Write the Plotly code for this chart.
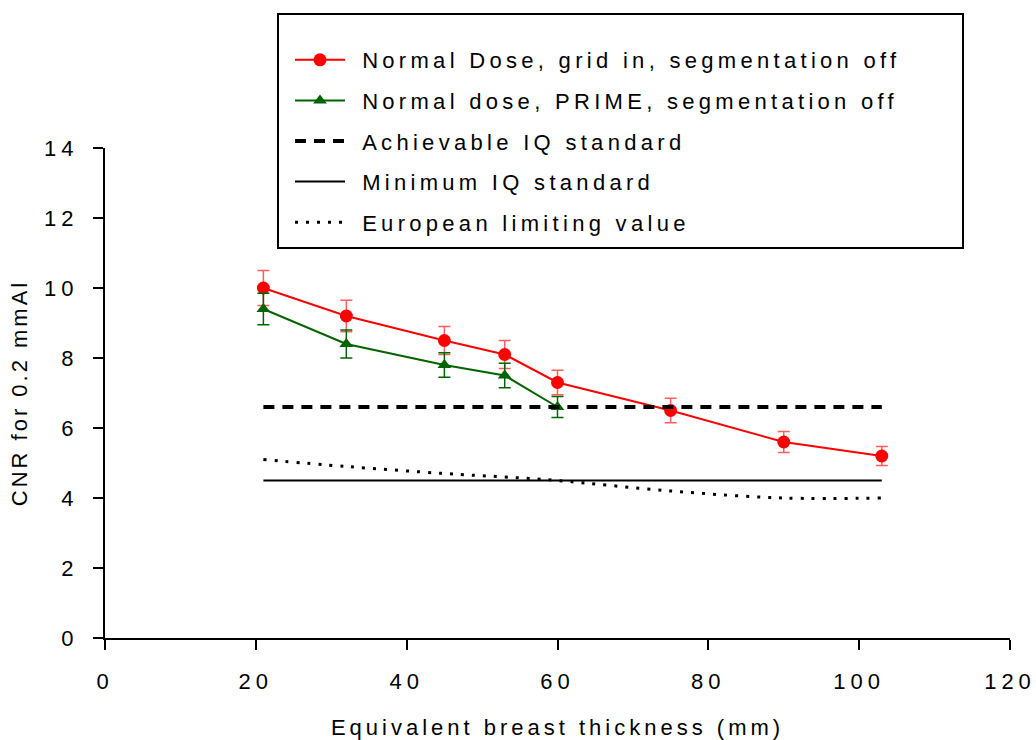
import plotly.graph_objects as go

# Equivalent breast thickness (mm) and CNR for 0.2 mm Al
thickness = [21, 32, 45, 53, 60, 75, 90, 103]
cnr_grid = [10.0, 9.2, 8.5, 8.1, 7.3, 6.5, 5.6, 5.2]
cnr_grid_err = [0.5, 0.45, 0.4, 0.4, 0.35, 0.35, 0.3, 0.27]

thickness_prime = [21, 32, 45, 53, 60]
cnr_prime = [9.4, 8.4, 7.8, 7.5, 6.6]
cnr_prime_err = [0.45, 0.4, 0.35, 0.35, 0.3]

achievable_iq = [6.6, 6.6, 6.6, 6.6, 6.6, 6.6, 6.6, 6.6]
minimum_iq = [4.5, 4.5, 4.5, 4.5, 4.5, 4.5, 4.5, 4.5]
european_limit = [5.1, 4.9, 4.7, 4.6, 4.5, 4.2, 4.0, 4.0]

x_ticks = [0, 20, 40, 60, 80, 100, 120]
y_ticks = [0, 2, 4, 6, 8, 10, 12, 14]

FONT = "Liberation Sans, Arial, sans-serif"


def spaced(text, px):
    return f'<span style="letter-spacing:{px}px">{text}</span>'


def legend_label(text):
    # small gap between the legend sample and its label
    return spaced("\u00a0", 6) + spaced(text, 4.3)


fig = go.Figure()

fig.add_trace(go.Scatter(
    x=thickness, y=cnr_grid, mode="lines+markers",
    name=legend_label("Normal Dose, grid in, segmentation off"),
    legendgroup="g1",
    line=dict(color="#ff0000", width=2),
    marker=dict(symbol="circle", size=13, color="#ff0000"),
    error_y=dict(type="data", array=cnr_grid_err, visible=True,
                 color="rgba(255,40,40,0.75)", thickness=1.5, width=6),
))

fig.add_trace(go.Scatter(
    x=thickness_prime, y=cnr_prime, mode="lines+markers",
    name=legend_label("Normal dose, PRIME, segmentation off"),
    legendgroup="g2",
    line=dict(color="#006400", width=2),
    marker=dict(symbol="triangle-up", size=12, color="#006400"),
    error_y=dict(type="data", array=cnr_prime_err, visible=True,
                 color="#006400", thickness=1.5, width=6),
))

fig.add_trace(go.Scatter(
    x=thickness, y=achievable_iq, mode="lines",
    name=legend_label("Achievable IQ standard"),
    legendgroup="g3",
    line=dict(color="black", width=4, dash="11px,8px"),
))

fig.add_trace(go.Scatter(
    x=thickness, y=minimum_iq, mode="lines",
    name=legend_label("Minimum IQ standard"),
    legendgroup="g4",
    line=dict(color="black", width=2),
))

fig.add_trace(go.Scatter(
    x=thickness, y=european_limit, mode="lines",
    name=legend_label("European limiting value"),
    legendgroup="g5",
    line=dict(color="black", width=3, dash="3px,8px", shape="spline"),
))

# frame around the legend
fig.add_shape(type="rect", xref="paper", yref="paper",
              x0=(278 - 105) / 905, x1=(963 - 105) / 905,
              y0=(638 - 248) / 490, y1=(638 - 14) / 490,
              line=dict(color="black", width=2), fillcolor="rgba(0,0,0,0)")

axis_common = dict(
    showline=True, linecolor="black", linewidth=2,
    ticks="outside", ticklen=10, tickwidth=2, tickcolor="black",
    showgrid=False, zeroline=False, automargin=False,
    tickfont=dict(family=FONT, size=22, color="black"),
)

fig.update_layout(
    width=1036, height=740,
    margin=dict(l=105, r=26, t=148, b=102, autoexpand=False),
    paper_bgcolor="white", plot_bgcolor="white",
    font=dict(family=FONT, size=22, color="black"),
    showlegend=True,
    legend=dict(
        x=(290 - 105) / 905, y=(638 - 39) / 490,
        xanchor="left", yanchor="top",
        bgcolor="rgba(0,0,0,0)", borderwidth=0,
        traceorder="grouped", tracegroupgap=9,
        itemwidth=50,
        font=dict(family=FONT, size=22, color="black"),
    ),
    xaxis=dict(
        range=[0, 120], tickvals=x_ticks,
        ticktext=[spaced(str(v), 5) for v in x_ticks],
        ticklabelstandoff=13,
        title=dict(text=spaced("Equivalent breast thickness (mm)", 4),
                   font=dict(family=FONT, size=22), standoff=37),
        **axis_common,
    ),
    yaxis=dict(
        range=[0, 14], tickvals=y_ticks,
        ticktext=[spaced(str(v), 5) for v in y_ticks],
        ticklabelstandoff=10,
        title=dict(text=spaced("CNR for 0.2 mmAl", 3),
                   font=dict(family=FONT, size=22), standoff=10),
        **axis_common,
    ),
)

fig.write_html("out.html")
